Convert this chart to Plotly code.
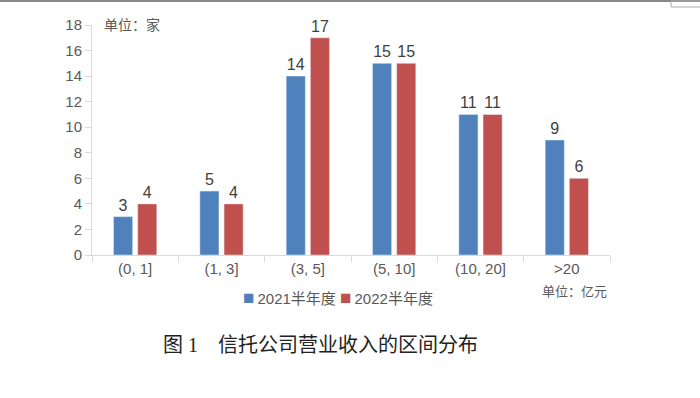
import plotly.graph_objects as go

categories = ["(0, 1]", "(1, 3]", "(3, 5]", "(5, 10]", "(10, 20]", ">20"]
series_2021 = [3, 5, 14, 15, 11, 9]
series_2022 = [4, 4, 17, 15, 11, 6]
name_2021 = "2021半年度"
name_2022 = "2022半年度"
y_ticks = list(range(0, 19, 2))

FONT = "Liberation Sans, Arial, Noto Sans CJK SC, sans-serif"
GRAY = "#595959"
BLUE = "#4F81BD"
RED = "#C0504D"

L, T, W, H = 92, 25, 518, 230


def px(x):
    return (x - L) / W


def py(y):
    return (T + H - y) / H


fig = go.Figure()
fig.add_trace(go.Bar(x=categories, y=series_2021, name=name_2021, marker_color=BLUE,
                     text=series_2021, textposition="outside", cliponaxis=False,
                     textfont=dict(size=16, color="#404040", family=FONT)))
fig.add_trace(go.Bar(x=categories, y=series_2022, name=name_2022, marker_color=RED,
                     text=series_2022, textposition="outside", cliponaxis=False,
                     textfont=dict(size=16, color="#404040", family=FONT)))

sq = "<span style='color:{c};font-size:19px'>■</span>"
legend_text = (sq.format(c=BLUE) + f"\u2009{name_2021} " +
               sq.format(c=RED) + f"\u2009{name_2022}")

fig.update_layout(
    width=700, height=398,
    margin=dict(l=L, r=700 - L - W, t=T, b=398 - T - H),
    paper_bgcolor="white", plot_bgcolor="white",
    barmode="group", bargap=0.44, bargroupgap=0.21,
    font=dict(family=FONT, color=GRAY, size=15),
    showlegend=False,
    xaxis=dict(showline=True, linecolor="#D9D9D9", linewidth=1, ticks="outside",
               tickson="boundaries", ticklen=6, tickcolor="#D9D9D9",
               tickfont=dict(size=15, color=GRAY), showgrid=False),
    yaxis=dict(range=[0, 18], tickvals=y_ticks, showline=True, linecolor="#D9D9D9",
               linewidth=1, ticks="outside", ticklen=6, tickcolor="#D9D9D9",
               tickfont=dict(size=15, color=GRAY), showgrid=False, zeroline=False),
    annotations=[
        dict(text="单位：家", xref="paper", yref="paper", x=px(102), y=py(24), xanchor="left",
             yanchor="middle", showarrow=False,
             font=dict(size=14, color=GRAY, family="Noto Sans CJK SC")),
        dict(text="单位：亿元", xref="paper", yref="paper", x=px(609), y=py(290), xanchor="right",
             yanchor="middle", showarrow=False,
             font=dict(size=13, color=GRAY, family="Noto Sans CJK SC")),
        dict(text=legend_text, xref="paper", yref="paper", x=px(338), y=py(297),
             xanchor="center", yanchor="middle", showarrow=False,
             font=dict(size=15, color=GRAY, family=FONT)),
        dict(text="图 1    信托公司营业收入的区间分布", xref="paper", yref="paper",
             x=px(320), y=py(345), xanchor="center", yanchor="middle",
             showarrow=False,
             font=dict(size=20, color="#222222", family="Liberation Serif, Noto Sans CJK SC")),
    ],
    shapes=[
        dict(type="line", xref="paper", yref="paper", x0=px(0), x1=px(700),
             y0=py(1), y1=py(1), line=dict(color="#888888", width=2)),
        dict(type="rect", xref="paper", yref="paper", x0=px(671), x1=px(701),
             y0=py(7), y1=py(1), line=dict(color="#AAAAAA", width=1)),
    ],
)

fig.write_html("out.html", config={"displayModeBar": False},
               post_script="document.body.style.margin='0';")
